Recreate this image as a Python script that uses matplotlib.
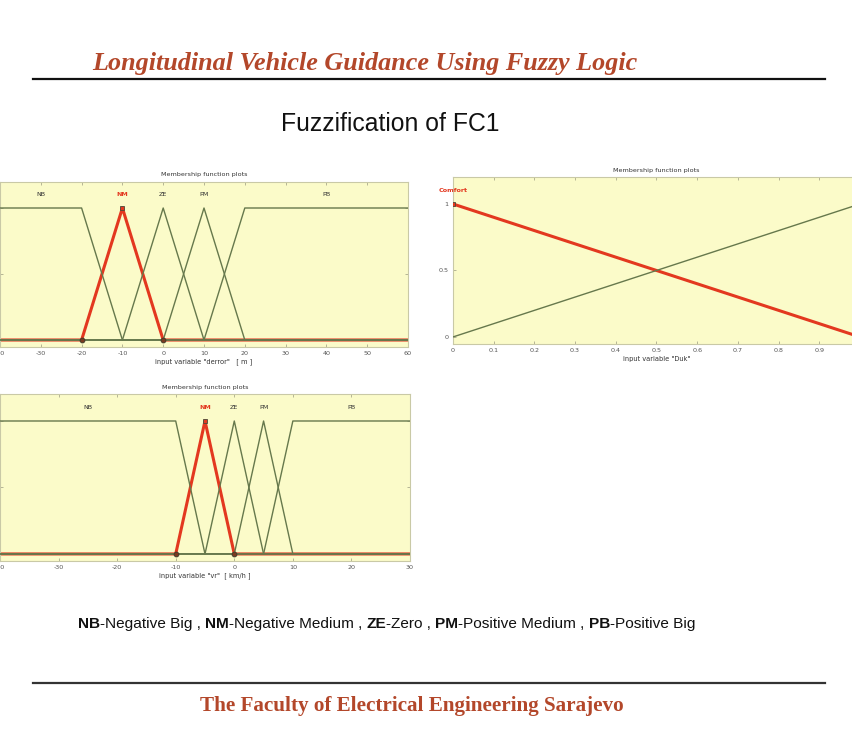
import matplotlib
matplotlib.use("Agg")
import matplotlib.pyplot as plt
from matplotlib.lines import Line2D

# membership functions: trapezoid parameters [a, b, c, d] (triangles have b == c)
derror_range = [-40, 60]
derror_ticks = [-40, -30, -20, -10, 0, 10, 20, 30, 40, 50, 60]
derror_names = ["NB", "NM", "ZE", "PM", "PB"]
derror_params = [[-40, -40, -20, -10], [-20, -10, -10, 0], [-10, 0, 0, 10],
                 [0, 10, 10, 20], [10, 20, 60, 60]]

vr_range = [-40, 30]
vr_ticks = [-40, -30, -20, -10, 0, 10, 20, 30]
vr_names = ["NB", "NM", "ZE", "PM", "PB"]
vr_params = [[-40, -40, -10, -5], [-10, -5, -5, 0], [-5, 0, 0, 5],
             [0, 5, 5, 10], [5, 10, 30, 30]]

duk_range = [0, 1]
duk_ticks = [0, 0.1, 0.2, 0.3, 0.4, 0.5, 0.6, 0.7, 0.8, 0.9, 1]
duk_names = ["Comfort", "Risky"]
duk_params = [[0, 0, 0, 1], [0, 1, 1, 1]]

legend_parts = [("NB", "-Negative Big , "), ("NM", "-Negative Medium , "), ("ZE", "-Zero , "),
                ("PM", "-Positive Medium , "), ("PB", "-Positive Big")]

W, H = 852, 742
FACE = "#fbfbc9"
GREEN = "#66784c"
RED = "#e3381f"
BROWN = "#b3472a"


def trapmf(x, p):
    a, b, c, d = p
    if x < a or x > d:
        return 0.0
    if b <= x <= c:
        return 1.0
    if x < b:
        return (x - a) / (b - a)
    return (d - x) / (d - c)


def mf_line(p, rng):
    xs = sorted(set([rng[0], rng[1]] + [v for v in p if rng[0] <= v <= rng[1]]))
    return xs, [trapmf(x, p) for x in xs]


def box(px_left, px_right, px_top, px_bottom):
    return [px_left / W, 1 - px_bottom / H, (px_right - px_left) / W, (px_bottom - px_top) / H]


def mf_panel(rect, rng, ticks, names, params, sel, xlabel):
    ax = fig.add_axes(rect)
    ax.set_facecolor(FACE)
    for i, p in enumerate(params):
        if i == sel:
            continue
        xs, ys = mf_line(p, rng)
        ax.plot(xs, ys, color=GREEN, lw=1.0, zorder=3)
    xs, ys = mf_line(params[sel], rng)
    ax.plot(xs, ys, color=RED, lw=2.2, zorder=2)
    # vertex handles of the selected function
    a, b, c, d = params[sel]
    feet = [v for v in (a, d) if rng[0] < v < rng[1]]
    ax.plot(feet, [0] * len(feet), "o", ms=3.5, mfc="#7a3a20", mec="#3a3a2a", mew=0.6, zorder=4)
    ax.plot([(b + c) / 2], [1], "s", ms=3.5, mfc=RED, mec="#4a4a3a", mew=0.6, zorder=4)
    for i, (name, p) in enumerate(zip(names, params)):
        lo, hi = max(p[1], rng[0]), min(p[2], rng[1])
        ax.text((lo + hi) / 2, 1.1, name, ha="center", va="center", fontsize=4.6,
                color=RED if i == sel else "#333333", fontweight="bold" if i == sel else "normal")
    ax.set_xlim(rng)
    ax.set_ylim(-0.05, 1.2)
    ax.set_xticks(ticks)
    ax.set_xticklabels([f"{t:g}" for t in ticks])
    ax.set_yticks([0, 0.5, 1])
    ax.set_yticklabels(["0", "0.5", "1"])
    ax.tick_params(direction="in", length=2.5, width=0.5, colors="#9a9a80", labelsize=4.6,
                   labelcolor="#555555", top=True, right=True, pad=3)
    for s in ax.spines.values():
        s.set_color("#c9c9a6")
        s.set_linewidth(0.8)
    ax.set_title("Membership function plots", fontsize=4.6, color="#333333", pad=4)
    ax.set_xlabel(xlabel, fontsize=4.8, color="#333333", labelpad=2)
    return ax


fig = plt.figure(figsize=(W / 100, H / 100), dpi=100)
fig.patch.set_facecolor("white")
page = fig.add_axes([0, 0, 1, 1])
page.set_axis_off()
page.set_zorder(-1)

mf_panel(box(0, 408, 181.6, 346.6), derror_range, derror_ticks, derror_names, derror_params, 1,
         'input variable "derror"   [ m ]')
mf_panel(box(453, 860, 177.4, 343.6), duk_range, duk_ticks, duk_names, duk_params, 0,
         'input variable "Duk"')
mf_panel(box(0, 410, 394.4, 560.6), vr_range, vr_ticks, vr_names, vr_params, 1,
         'input variable "vr"  [ km/h ]')

# page header
page.text(92 / W, 1 - 70 / H, "Longitudinal Vehicle Guidance Using Fuzzy Logic", ha="left", va="baseline",
          fontsize=18.8, family="Liberation Serif", style="italic", fontweight="bold", color=BROWN)
page.add_line(Line2D([33 / W, 825 / W], [1 - 79 / H] * 2, color="#111111", lw=1.6))
page.text(390 / W, 1 - 124 / H, "Fuzzification of FC1", ha="center", va="center",
          fontsize=17.8, family="Liberation Sans", color="#111111")

# abbreviation key, bold short names followed by plain descriptions
prev = None
for abbr, desc in legend_parts:
    for s, w in ((abbr, "bold"), (desc, "normal")):
        if prev is None:
            prev = page.text(78 / W, 1 - 631 / H, s, ha="left", va="bottom", fontsize=11.1,
                             family="Liberation Sans", fontweight=w, color="#111111")
        else:
            prev = page.annotate(s, xy=(1, 0), xycoords=prev, ha="left", va="bottom", fontsize=11.1,
                                 family="Liberation Sans", fontweight=w, color="#111111")

# page footer
page.add_line(Line2D([33 / W, 825 / W], [1 - 683 / H] * 2, color="#333333", lw=1.6))
page.text(412 / W, 1 - 711 / H, "The Faculty of Electrical Engineering Sarajevo", ha="center", va="baseline",
          fontsize=15.2, family="Liberation Serif", fontweight="bold", color=BROWN)

fig.savefig("out.png", dpi=100)
